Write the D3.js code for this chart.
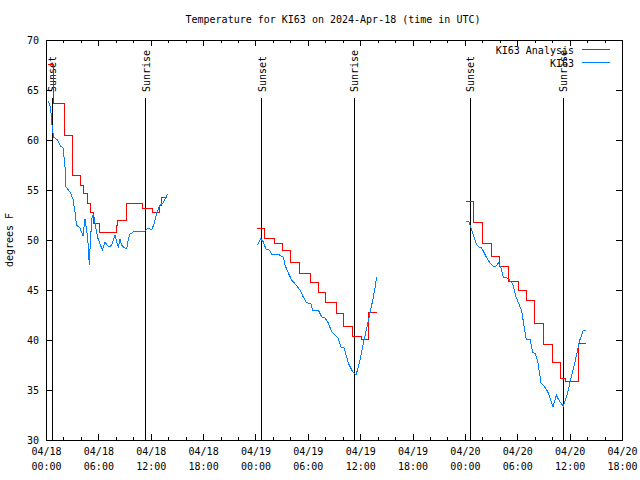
<!DOCTYPE html>
<html lang="en">
<head>
<meta charset="UTF-8">
<title>Temperature for KI63</title>
<script src="https://d3js.org/d3.v7.min.js"></script>
<style>
    body { margin: 0; background: #fff; }
    svg text { font-family: "DejaVu Sans Mono", "Liberation Mono", monospace; font-size: 10px; fill: #000; }
</style>
</head>
<body>
<div id="chart"></div>
<script>
// hours after 2024-04-18 00:00 UTC, null = gap between nights
var analysisHours = [0.2, 0.9, 2.12, 2.98, 4.0, 4.24, 4.76, 5.1, 5.39, 6.13, 8.08, 8.19, 9.17, 11.1, 12.2, 13.06, 13.2, 13.87,
    null,
    24.21, 25.04, 26.13, 27.1, 28.07, 29.05, 30.31, 31.22, 32.08, 33.23, 34.09, 35.12, 36.15, 37.01, 37.89,
    null,
    48.13, 49.04, 50.02, 51.02, 52.02, 53.05, 54.14, 55.06, 56.03, 57.01, 57.98, 59.01, 59.47, 61.02, 61.82];
var analysisTemps = [67.6, 63.7, 60.5, 56.5, 55.5, 54.7, 53.7, 52.8, 51.7, 50.8, 51.5, 52.0, 53.7, 53.2, 52.8, 53.5, 54.3, 54.3,
    null,
    51.2, 50.2, 49.7, 49.0, 47.8, 46.7, 45.8, 44.8, 43.8, 42.7, 41.4, 40.4, 40.1, 42.8, 42.8,
    null,
    53.9, 51.8, 49.7, 48.4, 47.4, 45.9, 45.0, 44.0, 41.7, 39.6, 37.8, 36.2, 35.9, 39.7, 39.7];

var obsHours = [0.23, 0.52, 0.69, 0.86, 1.32, 1.66, 1.95, 2.18, 2.29, 2.75, 3.09, 3.32, 3.49, 3.90, 4.24, 4.47, 4.66, 4.84, 4.96, 5.08,
    5.25, 5.44, 5.64, 5.90, 6.19, 6.47, 6.76, 6.99, 7.22, 7.53, 7.91, 8.10, 8.28, 8.48, 8.67, 8.86, 9.25, 9.43, 9.63, 10.20,
    11.34, 11.72, 12.11, 12.41, 12.68, 13.06, 13.44, 13.64, 13.94,
    null,
    24.21, 24.60, 24.90, 25.21, 25.59, 25.86, 26.62, 26.89, 27.19, 27.39, 27.76, 28.15, 28.65, 29.11, 29.48, 29.79, 30.06, 30.33,
    30.56, 31.20, 31.59, 31.97, 32.35, 32.74, 33.12, 33.49, 33.77, 34.15, 34.38, 34.64, 35.03, 35.29, 35.52, 35.79, 36.06, 36.44,
    36.75, 37.13, 37.44, 37.70, 37.89,
    null,
    48.13, 48.50, 48.66, 48.96, 49.35, 49.65, 49.92, 50.22, 50.57, 50.96, 51.33, 51.56, 51.83, 52.10, 52.40, 52.71, 53.09, 53.48,
    53.86, 54.32, 54.51, 54.77, 55.00, 55.15, 55.46, 55.75, 56.09, 56.38, 56.72, 57.06, 57.46, 57.75, 58.09, 58.47, 58.82, 59.27,
    59.53, 59.85, 60.10, 60.42, 60.77, 61.13, 61.53, 61.82];
var obsTemps = [63.9, 63.3, 61.5, 60.3, 60.0, 59.4, 59.2, 57.3, 55.3, 54.8, 54.1, 52.8, 51.5, 51.2, 50.4, 52.1, 51.0, 49.5, 47.5, 49.8,
    52.1, 52.6, 51.6, 50.3, 49.6, 49.0, 49.8, 49.5, 49.3, 49.5, 50.5, 49.8, 49.3, 50.1, 49.5, 49.3, 49.1, 50.1, 50.6, 50.9,
    50.9, 51.2, 51.0, 51.7, 52.7, 53.5, 53.7, 54.1, 54.6,
    null,
    49.5, 50.1, 49.8, 49.1, 49.0, 48.6, 48.6, 48.4, 48.3, 47.5, 46.7, 46.0, 45.5, 45.0, 44.3, 43.8, 43.7, 43.7,
    43.0, 43.0, 42.3, 42.2, 41.7, 40.8, 40.5, 40.2, 39.3, 39.2, 38.5, 37.7, 37.0, 36.7, 36.5, 37.3, 38.3, 40.0,
    41.2, 42.7, 44.0, 45.2, 46.3,
    null,
    51.9, 51.8, 51.3, 50.5, 49.5, 49.3, 49.2, 48.7, 48.1, 47.6, 47.3, 47.4, 47.7, 47.3, 46.3, 46.3, 46.0, 45.6,
    44.3, 43.3, 42.9, 41.4, 40.2, 40.0, 40.1, 38.8, 38.6, 37.7, 35.7, 35.4, 34.9, 34.2, 33.3, 34.5, 33.9, 33.4,
    34.0, 35.0, 36.0, 37.1, 38.4, 39.9, 40.9, 41.0];

var sunsetHours = [0.72, 24.71, 48.63];
var sunriseHours = [11.42, 35.33, 59.28];
var yTicks = [30, 35, 40, 45, 50, 55, 60, 65, 70];
var seriesNames = ["KI63 Analysis", "KI63"];
var seriesColors = ["#ff0000", "#0080ff"];

var startMs = Date.UTC(2024, 3, 18, 0, 0);
var endMs = Date.UTC(2024, 3, 20, 18, 0);
function toDate(h) { return new Date(startMs + h * 3600e3); }

function rows(hours, temps) {
    return hours.map(function(h, i) {
        return { time: h === null ? null : toDate(h), temp: temps[i] };
    });
}

var width = 640, height = 480;
var plotLeft = 46, plotRight = 622, plotTop = 40, plotBottom = 440;

var x = d3.scaleUtc().domain([new Date(startMs), new Date(endMs)]).range([plotLeft, plotRight]);
var y = d3.scaleLinear().domain([30, 70]).range([plotBottom, plotTop]);

var svg = d3.select("#chart").append("svg")
    .attr("width", width)
    .attr("height", height);

// title
svg.append("text")
    .attr("x", 333).attr("y", 23)
    .attr("text-anchor", "middle")
    .text("Temperature for KI63 on 2024-Apr-18 (time in UTC)");

// y label
svg.append("text")
    .attr("transform", "translate(13,240) rotate(-90)")
    .attr("text-anchor", "middle")
    .text("degrees F");

function styleAxis(g) {
    g.select(".domain").remove();
    g.attr("font-family", null).attr("font-size", null);
    g.selectAll("line").attr("stroke", "#000").attr("shape-rendering", "crispEdges");
}

// x ticks, minor every 2 hours, major every 6
svg.append("g").attr("transform", "translate(0," + plotBottom + ")")
    .call(d3.axisBottom(x).ticks(d3.utcHour.every(2)).tickSize(-3).tickFormat(""))
    .call(styleAxis);
svg.append("g").attr("transform", "translate(0," + plotTop + ")")
    .call(d3.axisTop(x).ticks(d3.utcHour.every(2)).tickSize(-3).tickFormat(""))
    .call(styleAxis);
svg.append("g").attr("transform", "translate(0," + plotTop + ")")
    .call(d3.axisTop(x).ticks(d3.utcHour.every(6)).tickSize(-6).tickFormat(""))
    .call(styleAxis);

var xAxis = svg.append("g").attr("transform", "translate(0," + plotBottom + ")")
    .call(d3.axisBottom(x).ticks(d3.utcHour.every(6)).tickSize(-6).tickPadding(8).tickFormat(d3.utcFormat("%m/%d")))
    .call(styleAxis);
xAxis.selectAll(".tick text").each(function(d) {
    var t = d3.select(this);
    t.text(null);
    t.append("tspan").attr("x", 0).text(d3.utcFormat("%m/%d")(d));
    t.append("tspan").attr("x", 0).attr("dy", "1.5em").text(d3.utcFormat("%H:%M")(d));
});

// y ticks on both sides
svg.append("g").attr("transform", "translate(" + plotLeft + ",0)")
    .call(d3.axisLeft(y).tickValues(yTicks).tickSize(-6).tickPadding(7))
    .call(styleAxis);
svg.append("g").attr("transform", "translate(" + plotRight + ",0)")
    .call(d3.axisRight(y).tickValues(yTicks).tickSize(-6).tickFormat(""))
    .call(styleAxis);

// border
svg.append("rect")
    .attr("x", plotLeft).attr("y", plotTop)
    .attr("width", plotRight - plotLeft).attr("height", plotBottom - plotTop)
    .attr("fill", "none").attr("stroke", "#000")
    .attr("shape-rendering", "crispEdges");

// sunset / sunrise markers
var events = sunsetHours.map(function(h) { return { h: h, name: "Sunset" }; })
    .concat(sunriseHours.map(function(h) { return { h: h, name: "Sunrise" }; }));

var ev = svg.selectAll(".event").data(events).enter().append("g").attr("class", "event");
ev.append("line")
    .attr("x1", function(d) { return x(toDate(d.h)); })
    .attr("x2", function(d) { return x(toDate(d.h)); })
    .attr("y1", plotTop + 58).attr("y2", plotBottom)
    .attr("stroke", "#000")
    .attr("shape-rendering", "crispEdges");
ev.append("text")
    .attr("transform", function(d) { return "translate(" + (x(toDate(d.h)) + 4) + "," + (plotTop + 52) + ") rotate(-90)"; })
    .attr("text-anchor", "start")
    .text(function(d) { return d.name; });

// series
var line = d3.line()
    .defined(function(d) { return d.temp !== null; })
    .x(function(d) { return x(d.time); })
    .y(function(d) { return y(d.temp); });

svg.append("path")
    .datum(rows(analysisHours, analysisTemps))
    .attr("fill", "none")
    .attr("stroke", seriesColors[0])
    .attr("stroke-width", 1)
    .attr("shape-rendering", "crispEdges")
    .attr("d", line.curve(d3.curveStepAfter));

svg.append("path")
    .datum(rows(obsHours, obsTemps))
    .attr("fill", "none")
    .attr("stroke", seriesColors[1])
    .attr("stroke-width", 1)
    .attr("shape-rendering", "crispEdges")
    .attr("d", line.curve(d3.curveLinear));

// legend
var legend = svg.selectAll(".legend").data(seriesNames).enter().append("g")
    .attr("class", "legend")
    .attr("transform", function(d, i) { return "translate(0," + (49.5 + i * 13) + ")"; });
legend.append("text")
    .attr("x", 574).attr("y", 4)
    .attr("text-anchor", "end")
    .text(function(d) { return d; });
legend.append("line")
    .attr("x1", 582).attr("x2", 610)
    .attr("stroke", function(d, i) { return seriesColors[i]; })
    .attr("shape-rendering", "crispEdges");
</script>
</body>
</html>
